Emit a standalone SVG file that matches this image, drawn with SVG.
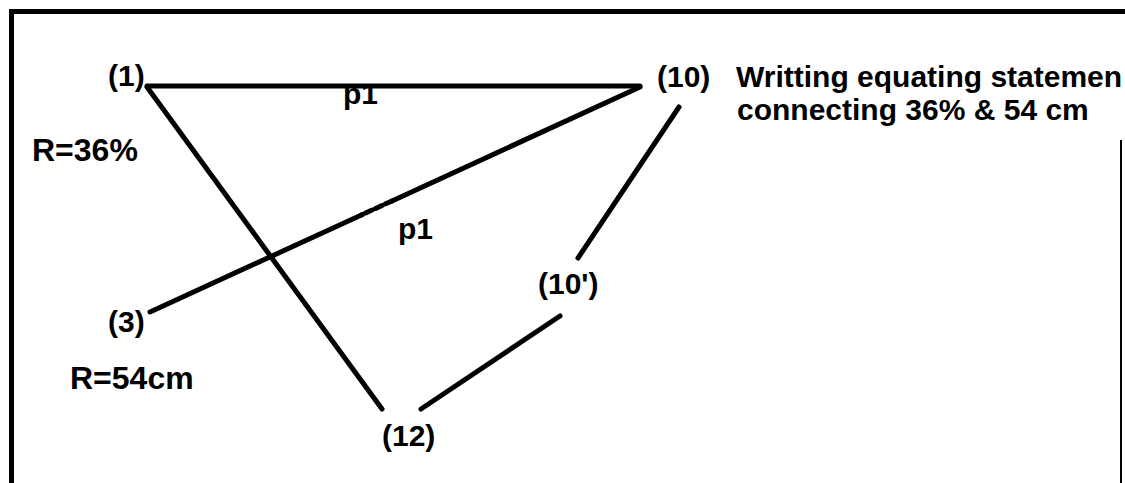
<svg xmlns="http://www.w3.org/2000/svg" width="1125" height="483" viewBox="0 0 1125 483">
<style>
.t{font-family:"Liberation Sans",Arial,Helvetica,sans-serif;font-weight:bold;font-size:30px;fill:#000}
.r{font-size:32px}
.ln{stroke:#000;stroke-width:5;stroke-linecap:round;fill:none}
.fr{stroke:#000;fill:none}
</style>
<rect width="1125" height="483" fill="#fff"/>
<g id="frame">
<line class="fr" x1="9" y1="11.5" x2="1125" y2="11.5" stroke-width="5"/>
<line class="fr" x1="11.5" y1="9" x2="11.5" y2="483" stroke-width="5"/>
<line class="fr" x1="1121" y1="140" x2="1121" y2="483" stroke-width="2"/>
</g>
<g id="labels-bg">
<text id="p1-top" class="t" x="343" y="104">p1</text>
</g>
<g id="connectors">
<line class="ln" x1="147" y1="86" x2="640" y2="86"/>
<line class="ln" x1="640" y1="87" x2="392" y2="200.9"/>
<line class="ln" x1="392" y1="200.9" x2="362" y2="214.7" stroke-linecap="butt" stroke-dasharray="7 4"/>
<line class="ln" x1="362" y1="214.7" x2="150" y2="312"/>
<line class="ln" x1="147" y1="87" x2="382" y2="409"/>
<line class="ln" x1="679" y1="107" x2="578" y2="258"/>
<line class="ln" x1="560" y1="316" x2="421" y2="409"/>
</g>
<g id="node-1"><text class="t" x="108" y="86">(1)</text></g>
<g id="node-10"><text class="t" x="657" y="87">(10)</text></g>
<g id="note-10"><text class="t" x="736" y="87">Writting equating statemen</text><text class="t" x="737" y="120">connecting 36% &amp; 54 cm</text></g>
<g id="label-r36"><text class="t r" x="32" y="161">R=36%</text></g>
<g id="label-p1"><text class="t" x="398" y="239">p1</text></g>
<g id="node-3"><text class="t" x="108" y="332">(3)</text></g>
<g id="label-r54"><text class="t r" x="70" y="389">R=54cm</text></g>
<g id="node-10p"><text class="t" x="538" y="294">(10')</text></g>
<g id="node-12"><text class="t" x="382" y="446">(12)</text></g>
</svg>
